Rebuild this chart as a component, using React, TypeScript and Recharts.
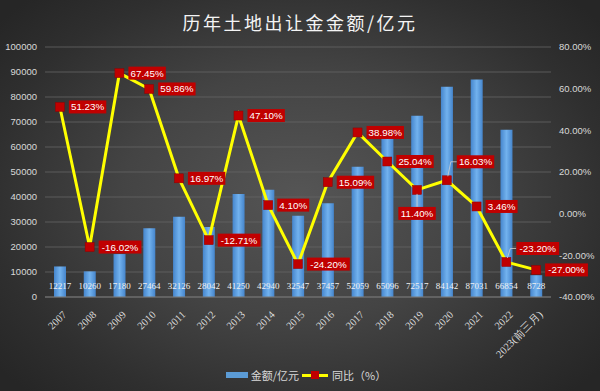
import React from 'react';
import { ComposedChart, Bar, Line, XAxis, YAxis, CartesianGrid, LabelList } from 'recharts';

const years = ['2007', '2008', '2009', '2010', '2011', '2012', '2013', '2014', '2015', '2016', '2017', '2018', '2019', '2020', '2021', '2022', '2023(前三月)'];
const amounts = [12217, 10260, 17180, 27464, 32126, 28042, 41250, 42940, 32547, 37457, 52059, 65096, 72517, 84142, 87031, 66854, 8728];
const growth = [51.23, -16.02, 67.45, 59.86, 16.97, -12.71, 47.10, 4.10, -24.20, 15.09, 38.98, 25.04, 11.40, 16.03, 3.46, -23.20, -27.00];
const leftTicks = [0, 10000, 20000, 30000, 40000, 50000, 60000, 70000, 80000, 90000, 100000];
const rightTicks = [-40, -20, 0, 20, 40, 60, 80];
const labelPlacement = ['right', 'right', 'right', 'right', 'right', 'right', 'right', 'right', 'right', 'right', 'right', 'right', 'below', 'aboveRight', 'right', 'aboveRight2', 'right'];

const data = years.map((y, i) => ({ year: y, amount: amounts[i], growth: growth[i] }));

const FONT = '"Liberation Sans", Arial, sans-serif';

const BarValueLabel = (props: any) => {
  const { x, y, width, height, value } = props;
  return (
    <text x={x + width / 2} y={y + height - 8} textAnchor="middle" fill="#f0f0f0" fontSize={9} fontFamily='"Liberation Serif", serif'>
      {value}
    </text>
  );
};

const GrowthLabel = (props: any) => {
  const { x, y, value, index } = props;
  const txt = Number(value).toFixed(2) + '%';
  const w = txt.length * 5.4 + 5;
  const h = 13;
  const place = labelPlacement[index];
  let bx = x + 9;
  let by = y - h / 2;
  let leader: React.ReactNode = null;
  if (place === 'below') {
    bx = x - w / 2;
    by = y + 17;
    leader = <line x1={x} y1={y + 4} x2={x} y2={by} stroke="#cfcfcf" strokeWidth={0.8} />;
  } else if (place === 'aboveRight') {
    bx = x + 10;
    by = y - 25;
    leader = <polyline points={`${x + 1},${y - 4} ${x + 4},${by + h / 2} ${bx},${by + h / 2}`} fill="none" stroke="#cfcfcf" strokeWidth={0.8} />;
  } else if (place === 'aboveRight2') {
    bx = x + 10;
    by = y - 20;
    leader = <polyline points={`${x + 1},${y - 4} ${x + 4},${by + h / 2} ${bx},${by + h / 2}`} fill="none" stroke="#cfcfcf" strokeWidth={0.8} />;
  }
  return (
    <g>
      {leader}
      <rect x={bx} y={by} width={w} height={h} fill="#c00000" />
      <text x={bx + w / 2} y={by + h / 2 + 3.5} textAnchor="middle" fill="#ffffff" fontSize={9.8} fontFamily={FONT}>
        {txt}
      </text>
    </g>
  );
};

const SquareDot = (props: any) => {
  const { cx, cy, index } = props;
  if (cx == null || cy == null) return null;
  return <rect key={index} x={cx - 4.5} y={cy - 4.5} width={9} height={9} fill="#c00000" stroke="#900000" strokeWidth={0.5} />;
};

const XTick = (props: any) => {
  const { x, y, payload } = props;
  return (
    <g transform={`translate(${x + 3},${y + 6})`}>
      <text x={0} y={0} dy={6} textAnchor="end" transform="rotate(-45)" fill="#dcdcdc" fontSize={10.5} fontFamily='"Liberation Serif", serif'>
        {payload.value}
      </text>
    </g>
  );
};

export default function App() {
  return (
    <div
      style={{
        position: 'absolute',
        left: 0,
        top: 0,
        width: 600,
        height: 391,
        background: 'radial-gradient(ellipse 65% 70% at 50% 50%, #555555 0%, #444444 45%, #2f2f2f 80%, #262626 100%)',
        overflow: 'hidden',
      }}
    >
      <div
        style={{
          position: 'absolute',
          top: 9,
          left: 0,
          width: 600,
          textAlign: 'center',
          color: '#f4f4f4',
          fontSize: 18,
          letterSpacing: 2.5,
          fontFamily: '"Noto Sans CJK SC", sans-serif',
          fontWeight: 400,
        }}
      >
        历年土地出让金金额/亿元
      </div>
      <ComposedChart width={600} height={391} data={data} margin={{ top: 47, right: 0, left: 0, bottom: 0 }}>
        <defs>
          <linearGradient id="barGrad" x1="0" y1="0" x2="1" y2="0">
            <stop offset="0%" stopColor="#4585cc" />
            <stop offset="50%" stopColor="#72b2ee" />
            <stop offset="100%" stopColor="#4585cc" />
          </linearGradient>
        </defs>
        <CartesianGrid yAxisId="left" vertical={false} stroke="#666666" strokeWidth={0.8} />
        <XAxis dataKey="year" tick={<XTick />} tickLine={false} axisLine={{ stroke: '#777777' }} interval={0} height={94} />
        <YAxis
          yAxisId="left"
          orientation="left"
          domain={[0, 100000]}
          ticks={leftTicks}
          width={45}
          axisLine={false}
          tickLine={false}
          tick={{ fill: '#d9d9d9', fontSize: 9.5, fontFamily: FONT }}
        />
        <YAxis
          yAxisId="right"
          orientation="right"
          domain={[-40, 80]}
          ticks={rightTicks}
          width={49}
          axisLine={false}
          tickLine={false}
          tickFormatter={(v: number) => v.toFixed(2) + '%'}
          tick={{ fill: '#d9d9d9', fontSize: 9.5, fontFamily: FONT }}
        />
        <Bar yAxisId="left" dataKey="amount" barSize={12} fill="url(#barGrad)" isAnimationActive={false}>
          <LabelList dataKey="amount" content={<BarValueLabel />} />
        </Bar>
        <Line
          yAxisId="right"
          dataKey="growth"
          stroke="#ffff00"
          strokeWidth={3}
          dot={<SquareDot />}
          activeDot={false}
          isAnimationActive={false}
        >
          <LabelList dataKey="growth" content={<GrowthLabel />} />
        </Line>
      </ComposedChart>
      <div
        style={{
          position: 'absolute',
          top: 367,
          left: 6,
          width: 600,
          display: 'flex',
          justifyContent: 'center',
          alignItems: 'center',
          color: '#d9d9d9',
          fontSize: 11,
          fontFamily: '"Noto Sans CJK SC", sans-serif',
        }}
      >
        <span style={{ display: 'inline-block', width: 22, height: 6, background: '#5b9bd5', marginRight: 3 }} />
        <span>金额/亿元</span>
        <span style={{ position: 'relative', display: 'inline-block', width: 26, height: 3, background: '#ffff00', margin: '0 4px 0 3px' }}>
          <span style={{ position: 'absolute', left: 9, top: -3, width: 8, height: 8, background: '#c00000' }} />
        </span>
        <span>同比（%）</span>
      </div>
    </div>
  );
}
